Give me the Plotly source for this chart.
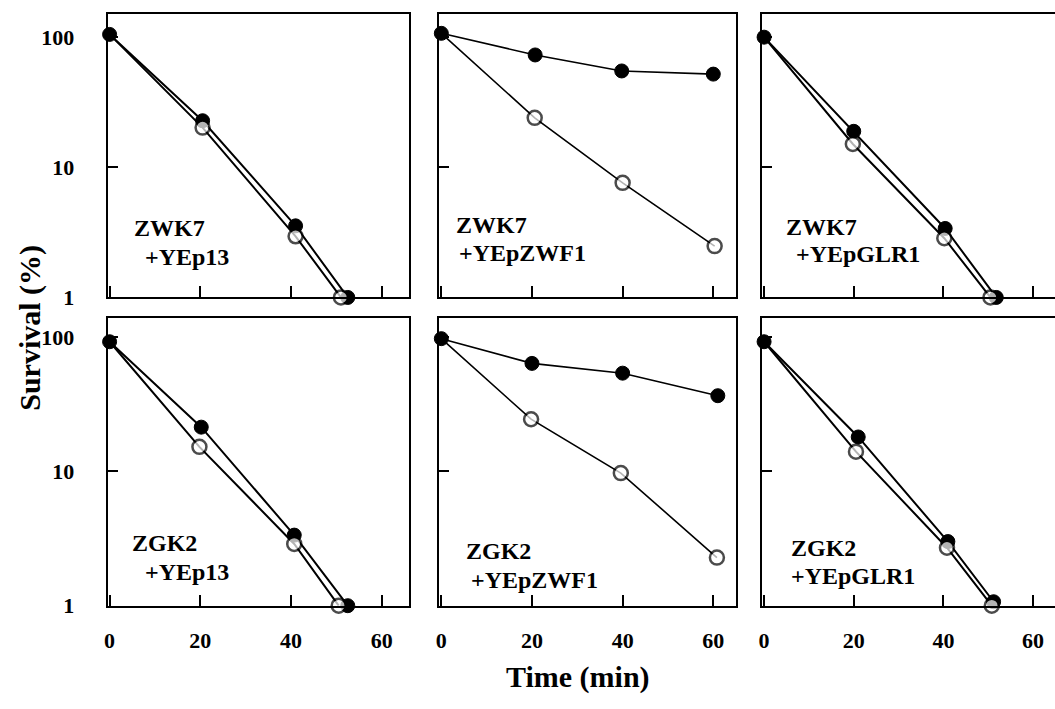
import plotly.graph_objects as go

FONT = "Liberation Serif"
W, H = 1055, 709

# ---- data ----
panel_line1 = ["ZWK7", "ZWK7", "ZWK7", "ZGK2", "ZGK2", "ZGK2"]
panel_line2 = ["+YEp13", "+YEpZWF1", "+YEpGLR1", "+YEp13", "+YEpZWF1", "+YEpGLR1"]

filled_x = [
    [0, 20.5, 41, 52.5],
    [0, 20.7, 39.8, 60],
    [0, 20, 40.4, 51.8],
    [0, 20.2, 40.7, 52.5],
    [0, 20, 40, 61],
    [0, 21, 41, 51.2],
]
filled_y = [
    [105, 22.8, 3.55, 1.0],
    [107, 73, 55, 52],
    [100, 18.9, 3.39, 1.0],
    [92, 21.3, 3.35, 1.0],
    [97, 63.5, 53.7, 36.5],
    [92, 18, 3.0, 1.07],
]
open_x = [
    [0, 20.5, 41, 51],
    [0, 20.6, 40, 60.3],
    [0, 19.8, 40.2, 50.5],
    [0, 19.8, 40.7, 50.5],
    [0, 19.8, 39.6, 60.8],
    [0, 20.5, 40.8, 50.8],
]
open_y = [
    [105, 20.2, 2.95, 1.0],
    [107, 24, 7.6, 2.48],
    [100, 15.1, 2.85, 1.0],
    [92, 15.2, 2.88, 1.0],
    [97, 24.4, 9.7, 2.28],
    [92, 14, 2.7, 1.0],
]

x_tickvals = [0, 20, 40, 60]
x_ticktext = ["0", "20", "40", "60"]
y_tickvals = [1, 10, 100]
y_ticktext = ["1", "10", "100"]

# ---- layout geometry (pixels) ----
col_px = [(104, 407), (437, 735), (761, 1055)]
row_px = [(14, 303), (324, 617)]
x_ranges = [[-0.44, 66.1], [-0.44, 65.06], [-0.44, 64.9]]
y_ranges = [[0, 2.18], [0, 2.14]]

label_pos = [
    ((128, 232), (140, 262)),
    ((452, 229), (455, 258)),
    ((783, 231), (793, 259)),
    ((126, 553), (140, 583)),
    ((462, 561), (467, 591)),
    ((788, 558), (788, 587)),
]

fig = go.Figure()
layout = dict(
    width=W, height=H,
    margin=dict(l=0, r=0, t=0, b=0),
    paper_bgcolor="white", plot_bgcolor="white",
    showlegend=False,
    font=dict(family=FONT, color="black"),
)

annotations = []
for i in range(6):
    r, c = divmod(i, 3)
    ax = "" if i == 0 else str(i + 1)
    xa, ya = "x" + ax, "y" + ax
    lw = 1.6 if c == 1 else 2.0
    fig.add_trace(go.Scatter(
        x=filled_x[i], y=filled_y[i], xaxis=xa, yaxis=ya, mode="lines+markers",
        line=dict(color="black", width=lw),
        marker=dict(symbol="circle", size=14, color="black", line=dict(color="black", width=1)),
        cliponaxis=False,
    ))
    fig.add_trace(go.Scatter(
        x=open_x[i], y=open_y[i], xaxis=xa, yaxis=ya, mode="lines+markers",
        line=dict(color="black", width=lw),
        marker=dict(symbol="circle", size=[0, 14, 14, 14], color="white",
                    line=dict(color="black", width=2.5)),
        cliponaxis=False,
    ))
    x0, x1 = col_px[c]
    y0, y1 = row_px[r]
    layout["xaxis" + ax] = dict(
        domain=[x0 / W, x1 / W], range=x_ranges[c], anchor=ya,
        showline=True, linecolor="black", linewidth=2,
        mirror=True, showgrid=False, zeroline=False,
        ticks="inside", ticklen=11, tickwidth=2, tickcolor="black",
        tickvals=x_tickvals, ticktext=x_ticktext,
        showticklabels=(r == 1), ticklabelstandoff=14,
        tickfont=dict(family=FONT, size=22, color="black", weight="bold"),
    )
    layout["yaxis" + ax] = dict(
        domain=[1 - y1 / H, 1 - y0 / H], range=y_ranges[r], type="log", anchor=xa,
        showline=True, linecolor="black", linewidth=2,
        mirror=(c != 2), showgrid=False, zeroline=False,
        ticks="inside", ticklen=10, tickwidth=2, tickcolor="black",
        tickvals=y_tickvals, ticktext=y_ticktext,
        showticklabels=(c == 0), ticklabelstandoff=27,
        tickfont=dict(family=FONT, size=22, color="black", weight="bold"),
    )
    (lx1, ly1), (lx2, ly2) = label_pos[i]
    for txt, lx, ly in ((panel_line1[i], lx1, ly1), (panel_line2[i], lx2, ly2)):
        annotations.append(dict(
            text="<b>" + txt + "</b>", x=lx / W, y=1 - ly / H, xref="paper", yref="paper",
            xanchor="left", yanchor="middle", showarrow=False,
            font=dict(family=FONT, size=24, color="black"),
        ))

annotations.append(dict(
    text="<b>Time (min)</b>", x=576 / W, y=1 - 690 / H, xref="paper", yref="paper",
    xanchor="center", yanchor="middle", showarrow=False,
    font=dict(family=FONT, size=30, color="black"),
))
annotations.append(dict(
    text="<b>Survival (%)</b>", x=26 / W, y=1 - 334 / H, xref="paper", yref="paper",
    xanchor="center", yanchor="middle", showarrow=False, textangle=-90,
    font=dict(family=FONT, size=30, color="black"),
))
layout["annotations"] = annotations
fig.update_layout(**layout)
fig.write_html("out.html")
